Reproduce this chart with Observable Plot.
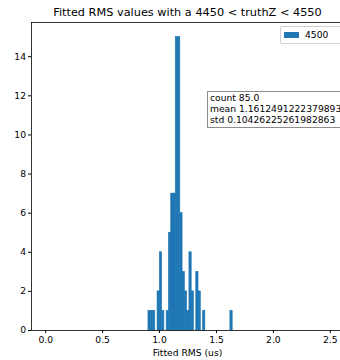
<!DOCTYPE html>
<html>
<head>
<meta charset="utf-8">
<script src="https://cdn.jsdelivr.net/npm/d3@7"></script>
<script src="https://cdn.jsdelivr.net/npm/@observablehq/plot@0.6"></script>
<style>
  html, body { margin: 0; padding: 0; background: white; overflow: hidden; }
  #wrap { position: relative; width: 340px; height: 360px; overflow: hidden; font-family: "DejaVu Sans", sans-serif; color: #000; }
  #title { position: absolute; left: 0; top: 6px; width: 375px; text-align: center; font-size: 11.3px; line-height: 13px; white-space: nowrap; }
  #xlabel { position: absolute; left: 0; top: 347px; width: 375px; text-align: center; font-size: 9.2px; line-height: 11px; white-space: nowrap; }
  #legend { position: absolute; left: 279.5px; top: 26px; width: 62px; height: 16px; border: 1px solid #d0d0d0; border-radius: 2px; background: rgba(255,255,255,0.8); font-size: 9.2px; }
  #legend .patch { position: absolute; left: 3.5px; top: 5px; width: 15px; height: 5.5px; background: #1f77b4; }
  #legend .lab { position: absolute; left: 24.5px; top: 2px; line-height: 11px; white-space: nowrap; }
  #stats { position: absolute; left: 207px; top: 91px; width: 160px; height: 34.5px; border: 1px solid #8c8c8c; background: white; font-size: 9.2px; line-height: 11.2px; padding: 0 0 0 2px; white-space: nowrap; }
  svg { position: absolute; left: 0; top: 0; }
</style>
</head>
<body>
<div id="wrap">
  <div id="chart"></div>
  <div id="title">Fitted RMS values with a 4450 &lt; truthZ &lt; 4550</div>
  <div id="xlabel">Fitted RMS (us)</div>
  <div id="legend"><span class="patch"></span><span class="lab">4500</span></div>
  <div id="stats"></div>
</div>
<script>
// Histogram bins (left edges) and counts
const binLeft = [0.9025, 0.9225, 0.9425, 0.9825, 1.0025, 1.0225, 1.0625, 1.0825, 1.1025, 1.1225, 1.1425, 1.1625, 1.1825, 1.2025, 1.2225, 1.2425, 1.2625, 1.2825, 1.3225, 1.3425, 1.3825, 1.6225];
const counts = [1, 1, 1, 2, 4, 1, 1, 5, 7, 7, 15, 15, 6, 3, 2, 1, 4, 2, 3, 2, 1, 1];
const binWidth = 0.02;
const xTicks = [0.0, 0.5, 1.0, 1.5, 2.0, 2.5];
const yTicks = [0, 2, 4, 6, 8, 10, 12, 14];
const seriesName = "4500";
const statLines = ["count 85.0", "mean 1.1612491222379893", "std 0.10426225261982863"];

document.querySelector("#legend .lab").textContent = seriesName;
document.getElementById("stats").innerHTML = statLines.map(s => `<div>${s}</div>`).join("");

const table = binLeft.map((x, i) => ({x1: x, x2: x + binWidth, count: counts[i]}));
const xDomain = [-0.125, 2.625];
const yDomain = [0, 15.75];

const chart = Plot.plot({
  width: 340,
  height: 360,
  marginLeft: 31,
  marginRight: 0,
  marginTop: 22,
  marginBottom: 30,
  style: {fontFamily: "DejaVu Sans", fontSize: "9.2px", color: "#000", background: "transparent", overflow: "hidden"},
  x: {domain: xDomain, range: [31, 344], ticks: xTicks, tickFormat: d3.format(".1f"), label: null, tickSize: 3, tickPadding: 2.5},
  y: {domain: yDomain, ticks: yTicks, label: null, tickSize: 3, tickPadding: 2.5},
  marks: [
    Plot.rectY(table, {x1: "x1", x2: "x2", y: "count", fill: "#1f77b4", stroke: "#1f77b4", strokeWidth: 0.6, inset: 0, insetLeft: 0, insetRight: 0}),
    Plot.ruleY([yDomain[0]], {stroke: "#000", strokeWidth: 0.8}),
    Plot.ruleY([yDomain[1]], {stroke: "#000", strokeWidth: 0.8}),
    Plot.ruleX([xDomain[0]], {stroke: "#000", strokeWidth: 0.8})
  ]
});
document.getElementById("chart").appendChild(chart);
</script>
</body>
</html>
